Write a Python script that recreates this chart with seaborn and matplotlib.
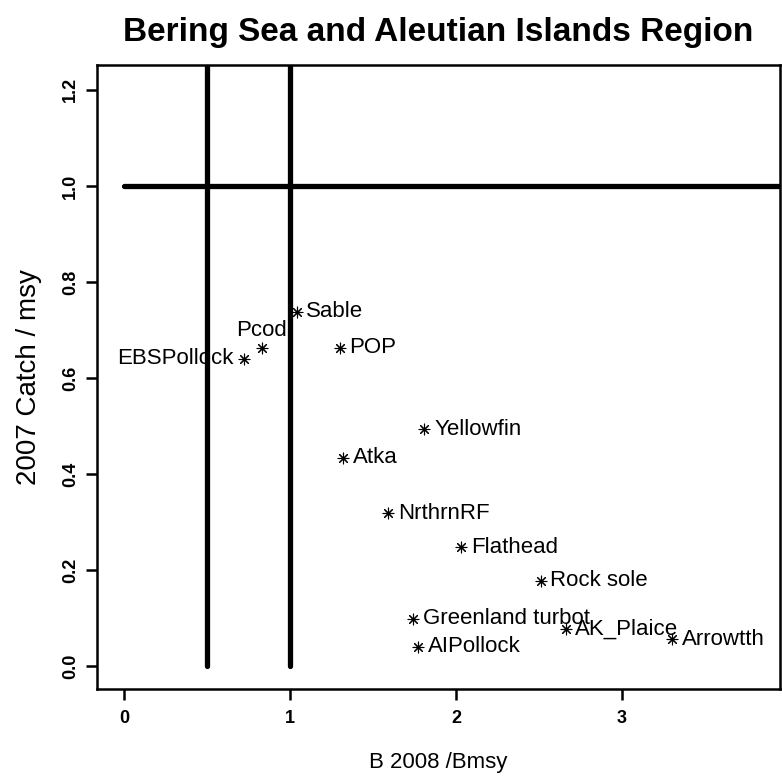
import matplotlib
matplotlib.use("Agg")
import matplotlib.pyplot as plt
import seaborn as sns
import pandas as pd

# stock status values
species = ["Sable", "Pcod", "EBSPollock", "POP", "Yellowfin", "Atka", "NrthrnRF",
           "Flathead", "Rock sole", "Greenland turbot", "AIPollock", "AK_Plaice", "Arrowtth"]
b_ratio = [1.04, 0.83, 0.72, 1.30, 1.81, 1.32, 1.59, 2.03, 2.51, 1.74, 1.77, 2.66, 3.30]
catch_ratio = [0.738, 0.663, 0.640, 0.663, 0.493, 0.434, 0.318, 0.247, 0.177, 0.098, 0.040, 0.077, 0.056]
label_side = ["right", "top", "left", "right", "right", "right", "right",
              "right", "right", "right", "right", "right", "right"]

x_ticks = [0, 1, 2, 3]
y_ticks = [0.0, 0.2, 0.4, 0.6, 0.8, 1.0, 1.2]
b_limits = [0.5, 1.0]
catch_limit = 1.0

df = pd.DataFrame({"species": species, "b": b_ratio, "catch": catch_ratio, "side": label_side})

sns.set_style("ticks")
plt.rcParams['font.family'] = ['Liberation Sans', 'DejaVu Sans']
plt.rcParams.update({"text.color": "black", "axes.labelcolor": "black",
                     "xtick.color": "black", "ytick.color": "black"})

fig = plt.figure(figsize=(7.82, 7.78), dpi=100)
ax = fig.add_axes([0.124, 0.1144, 0.873, 0.8021])

# reference lines
for v in b_limits:
    ax.plot([v, v], [0, 1.5], color="black", lw=3.8, solid_capstyle="round", zorder=1)
ax.plot([0, 5], [catch_limit, catch_limit], color="black", lw=3.8, solid_capstyle="round", zorder=1)

sns.scatterplot(data=df, x="b", y="catch", marker=(8, 2, 0), s=60, color="black",
                linewidth=0.8, ax=ax, zorder=3, legend=False)

for _, r in df.iterrows():
    if r.side == "right":
        ax.annotate(r.species, (r.b, r.catch), xytext=(7, 0), textcoords="offset points",
                    ha="left", va="center", fontsize=16)
    elif r.side == "left":
        ax.annotate(r.species, (r.b, r.catch), xytext=(-7, 0), textcoords="offset points",
                    ha="right", va="center", fontsize=16)
    else:
        ax.annotate(r.species, (r.b, r.catch), xytext=(0, 5), textcoords="offset points",
                    ha="center", va="bottom", fontsize=16)

ax.set_xlim(-0.163, 3.95)
ax.set_ylim(-0.048, 1.252)
ax.set_xticks(x_ticks)
ax.set_xticklabels([str(t) for t in x_ticks], fontsize=13, fontweight="bold")
ax.set_yticks(y_ticks)
ax.set_yticklabels(["%.1f" % t for t in y_ticks], fontsize=13, fontweight="bold",
                   rotation=90, va="center")
ax.tick_params(axis="both", direction="out", length=8, width=1.8, color="black")
ax.tick_params(axis="x", pad=7)
ax.tick_params(axis="y", pad=5)
for s in ax.spines.values():
    s.set_visible(True)
    s.set_linewidth(1.8)
    s.set_color("black")

ax.set_xlabel("B 2008 /Bmsy", fontsize=16, labelpad=18)
ax.set_ylabel("2007 Catch / msy", fontsize=20, labelpad=14)
ax.set_title("Bering Sea and Aleutian Islands Region", fontsize=24, fontweight="bold", pad=17)

fig.savefig("out.png", dpi=100)
